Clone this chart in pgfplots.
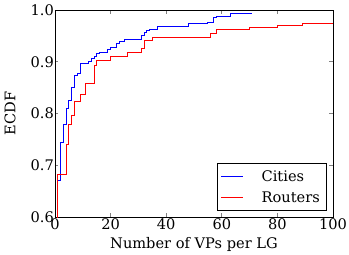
\documentclass[border=0pt]{standalone}
\usepackage{fontspec}
\setmainfont{DejaVu Serif}
\usepackage{pgfplots}
\pgfplotsset{compat=1.18}
\definecolor{mblue}{rgb}{0,0,1}
\definecolor{mred}{rgb}{1,0,0}
\newcommand{\fs}{\fontsize{14.6}{17}\selectfont}
\begin{document}
\begin{tikzpicture}[x=1pt,y=1pt]
\useasboundingbox (-55,-38) rectangle (294,217);
\begin{axis}[at={(0,0)}, anchor=south west, scale only axis,
  width=278pt, height=207pt,
  xmin=0, xmax=100, ymin=0.6, ymax=1.0,
  xtick={0,20,40,60,80,100}, ytick={0.6,0.7,0.8,0.9,1.0},
  yticklabel style={/pgf/number format/fixed, /pgf/number format/fixed zerofill, /pgf/number format/precision=1},
  /pgf/number format/assume math mode=true,
  tick align=inside, major tick length=3.5pt,
  tick style={line width=0.6pt},
  axis line style={line width=0.8pt},
  ticklabel style={font=\fs},
  xticklabel style={inner ysep=1pt},
  yticklabel style={inner xsep=1pt},
  xlabel={Number of VPs per LG}, ylabel={ECDF},
  xlabel style={font=\fs, at={(axis description cs:0.5,0)}, anchor=base, yshift=-31pt},
  ylabel style={font=\fs, at={(axis description cs:-0.162,0.5)}, anchor=center},
  legend style={at={(rel axis cs:1,0)}, anchor=south east, xshift=-7pt, yshift=7pt,
    font=\fs, inner xsep=4pt, inner ysep=5pt, row sep=7pt,
    nodes={inner xsep=2pt, inner ysep=2pt, text height=10.6pt, text depth=0pt},
    /tikz/every odd column/.append style={column sep=16pt}},
  legend cell align=left,
  legend image code/.code={\draw[#1] (5pt,0pt) -- (27pt,0pt);},
]
\addplot[const plot mark left, mblue, line width=0.8pt] coordinates {
(1,0.671)(2,0.745)(3,0.778)(4,0.810)(5,0.826)(6,0.850)(7,0.874)(8,0.878)(9,0.897)
(12,0.901)(13,0.906)(14,0.911)(15,0.916)(16,0.918)(19,0.924)(20,0.928)(22,0.936)
(23,0.939)(25,0.943)(31,0.950)(32,0.956)(33,0.961)(34,0.963)(37,0.968)(48,0.974)
(55,0.977)(57,0.985)(58,0.988)(63,0.994)(71,0.994)
};
\addlegendentry{Cities}
\addplot[const plot mark left, mred, line width=0.8pt] coordinates {
(0,0.40)(1,0.682)(4,0.740)(5,0.778)(6,0.797)(7,0.823)(9,0.836)(11,0.858)(14,0.892)
(15,0.903)(20,0.910)(26,0.918)(31,0.925)(32,0.941)(35,0.948)(56,0.955)(58,0.963)
(70,0.967)(80,0.970)(89,0.974)(100,0.974)
};
\addlegendentry{Routers}
\end{axis}
\end{tikzpicture}
\end{document}
